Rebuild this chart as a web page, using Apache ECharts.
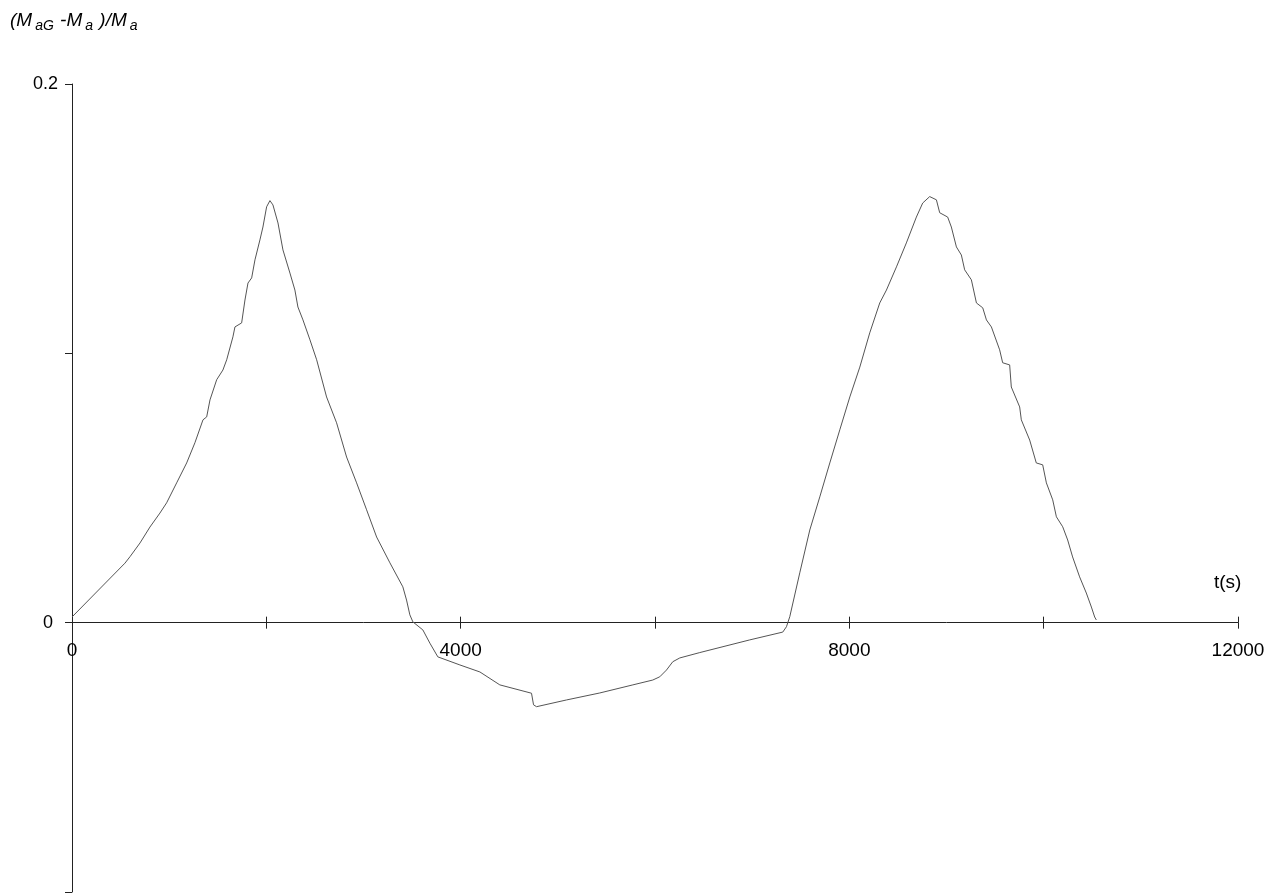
<!DOCTYPE html>
<html>
<head>
<meta charset="utf-8">
<title>(MaG - Ma)/Ma versus t</title>
<script src="https://cdn.jsdelivr.net/npm/echarts@6/dist/echarts.min.js"></script>
<style>
  html, body { margin: 0; padding: 0; background: #fff; }
  #chart { width: 1278px; height: 894px; }
</style>
</head>
<body>
<div id="chart"></div>
<script>
// time in seconds
const timeSeconds = [
  0, 545, 597, 700, 802, 905, 974, 1077, 1180, 1265, 1348, 1386, 1420, 1489, 1553, 1592,
  1656, 1677, 1746, 1780, 1811, 1849, 1883, 1934, 1965, 2003, 2037, 2068, 2120, 2171,
  2243, 2294, 2325, 2377, 2449, 2518, 2620, 2723, 2826, 2929, 3032, 3135, 3272, 3405,
  3443, 3477, 3508, 3611, 3683, 3765, 3992, 4198, 4403, 4729, 4743, 4750, 4781, 5089,
  5432, 5772, 5977, 6049, 6118, 6183, 6255, 6461, 6975, 7315, 7353, 7387, 7490, 7593,
  7696, 7799, 7902, 8005, 8108, 8210, 8313, 8382, 8485, 8587, 8690, 8755, 8827, 8896,
  8930, 9012, 9050, 9102, 9153, 9187, 9256, 9308, 9373, 9411, 9462, 9547, 9578, 9650,
  9667, 9753, 9770, 9856, 9924, 9990, 10028, 10093, 10131, 10196, 10247, 10298, 10370,
  10439, 10491, 10525, 10542
];

// relative deviation (MaG - Ma)/Ma
const relativeDeviation = [
  0.0021, 0.0221, 0.0245, 0.0296, 0.0355, 0.0407, 0.0445, 0.0519, 0.0593, 0.0668, 0.0753,
  0.0764, 0.0827, 0.0902, 0.0938, 0.0976, 0.1061, 0.1098, 0.1113, 0.1198, 0.1261, 0.1280,
  0.1347, 0.1421, 0.1469, 0.1544, 0.1567, 0.1551, 0.1484, 0.1384, 0.1298, 0.1235, 0.1172,
  0.1124, 0.1050, 0.0976, 0.0838, 0.0742, 0.0615, 0.0519, 0.0419, 0.0318, 0.0222, 0.0133,
  0.0084, 0.0029, 0.0003, -0.0027, -0.0076, -0.0127, -0.0157, -0.0183, -0.0231, -0.0262,
  -0.0268, -0.0305, -0.0312, -0.0287, -0.0261, -0.0231, -0.0213, -0.0201, -0.0176,
  -0.0145, -0.0131, -0.0111, -0.0064, -0.0035, -0.0015, 0.0022, 0.0185, 0.0344, 0.0467,
  0.0593, 0.0716, 0.0838, 0.0949, 0.1076, 0.1187, 0.1235, 0.1321, 0.1410, 0.1506, 0.1558,
  0.1582, 0.1570, 0.1522, 0.1506, 0.1469, 0.1395, 0.1365, 0.1310, 0.1273, 0.1187, 0.1169,
  0.1124, 0.1098, 0.1013, 0.0965, 0.0957, 0.0875, 0.0801, 0.0753, 0.0678, 0.0593, 0.0586,
  0.0519, 0.0456, 0.0393, 0.0356, 0.0307, 0.0244, 0.0170, 0.0110, 0.0058, 0.0021, 0.0010
];

// axis ranges and labelled ticks
const xRange = { min: 0, max: 12000, step: 2000 };
const xLabelledTicks = [0, 4000, 8000, 12000];
const yRange = { min: -0.1, max: 0.2, step: 0.1 };
const yLabelledTicks = [0.2, 0];

const points = timeSeconds.map((t, i) => [t, relativeDeviation[i]]);

const FONT = '"Liberation Sans", Arial, Helvetica, sans-serif';
const AXIS_COLOR = '#222';

// plot area
const CHART_H = 894;
const GRID = { left: 72, right: 40, top: 84, bottom: 2 };
const plotHeight = CHART_H - GRID.top - GRID.bottom;
// lift the time axis from the bottom edge up to the y = 0 level
const xAxisLift = -((0 - yRange.min) / (yRange.max - yRange.min)) * plotHeight;

const chart = echarts.init(document.getElementById('chart'), null, { renderer: 'canvas' });

chart.setOption({
  backgroundColor: '#ffffff',
  animation: false,
  grid: Object.assign({ outerBoundsMode: 'none' }, GRID),
  xAxis: [
    {
      type: 'value',
      min: xRange.min,
      max: xRange.max,
      interval: xRange.step,
      position: 'bottom',
      offset: xAxisLift,
      axisLine: { show: true, onZero: false, lineStyle: { color: AXIS_COLOR, width: 1 } },
      axisTick: { show: true, inside: false, length: 6, lineStyle: { color: AXIS_COLOR, width: 1 } },
      axisLabel: {
        show: true, margin: 19, showMinLabel: true, showMaxLabel: true,
        color: '#000', fontSize: 19, fontFamily: FONT,
        formatter: (v) => (xLabelledTicks.indexOf(Math.round(v)) >= 0 ? String(Math.round(v)) : '')
      },
      splitLine: { show: false }
    },
    {
      // upper halves of the time ticks, so that they cross the axis line
      type: 'value',
      min: xRange.min,
      max: xRange.max,
      interval: xRange.step,
      position: 'bottom',
      offset: xAxisLift,
      axisLine: { show: false, onZero: false },
      axisTick: { show: true, inside: true, length: 6, lineStyle: { color: AXIS_COLOR, width: 1 } },
      axisLabel: { show: false },
      splitLine: { show: false }
    }
  ],
  yAxis: {
    type: 'value',
    min: yRange.min,
    max: yRange.max,
    interval: yRange.step,
    axisLine: { show: true, onZero: false, lineStyle: { color: AXIS_COLOR, width: 1 } },
    axisTick: { show: true, inside: false, length: 7, lineStyle: { color: AXIS_COLOR, width: 1 } },
    axisLabel: {
      show: true, margin: 14, showMinLabel: true, showMaxLabel: true,
      color: '#000', fontSize: 18, fontFamily: FONT,
      formatter: (v) => {
        const hit = yLabelledTicks.find((t) => Math.abs(t - v) < 1e-9);
        if (hit === undefined) return '';
        return hit === 0 ? '{z|0}' : String(hit);
      },
      rich: { z: { fontSize: 18, fontFamily: FONT, color: '#000', padding: [0, 5, 0, 0] } }
    },
    splitLine: { show: false }
  },
  graphic: [
    {
      type: 'text',
      left: 10,
      top: 9,
      style: {
        text: '{n|(M}{s|aG}{n| -M}{s|a}{n| )/M}{s|a}',
        rich: {
          n: { fontSize: 19, fontStyle: 'italic', fontFamily: FONT, fill: '#000', lineHeight: 22 },
          s: { fontSize: 14, fontStyle: 'italic', fontFamily: FONT, fill: '#000', padding: [10, 1, 0, 3], lineHeight: 22 }
        }
      }
    },
    {
      type: 'text',
      left: 1214,
      top: 573,
      style: { text: 't(s)', fontSize: 19, fontFamily: FONT, fill: '#000' }
    }
  ],
  series: [
    {
      type: 'line',
      data: points,
      xAxisIndex: 0,
      yAxisIndex: 0,
      showSymbol: false,
      smooth: false,
      lineStyle: { color: '#555', width: 1 },
      z: 3
    }
  ]
});
</script>
</body>
</html>
